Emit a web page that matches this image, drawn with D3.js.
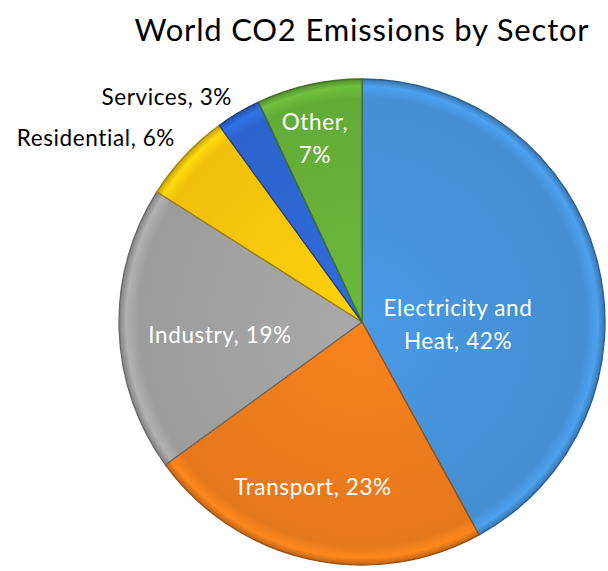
<!DOCTYPE html>
<html>
<head>
<meta charset="utf-8">
<script src="https://cdn.jsdelivr.net/npm/d3@7"></script>
<style>
  body { margin: 0; background: #fff; }
  svg text { font-family: "Lato", "Open Sans", sans-serif; }
</style>
</head>
<body>
<div id="chart"></div>
<script>
// World CO2 emissions by sector, clockwise from 12 o'clock
const sectors = ["Electricity and Heat", "Transport", "Industry", "Residential", "Services", "Other"];
const shares = [42, 23, 19, 6, 3, 7];
const colors = ["#4896de", "#f27f1c", "#a5a5a5", "#fdcb0c", "#2f69d7", "#68b43a"];

const W = 608, H = 571;
const cx = 362, cy = 322, R = 243;

const svg = d3.select("#chart").append("svg")
  .attr("width", W).attr("height", H);

// bevel look: radial gradient per slice
const defs = svg.append("defs");
colors.forEach((c, i) => {
  const grad = defs.append("radialGradient")
    .attr("id", "g" + i)
    .attr("gradientUnits", "userSpaceOnUse")
    .attr("cx", 0).attr("cy", 0).attr("r", R);
  const base = d3.color(c);
  grad.append("stop").attr("offset", "0%").attr("stop-color", base.brighter(0.08));
  grad.append("stop").attr("offset", "92%").attr("stop-color", base.darker(0.15));
  grad.append("stop").attr("offset", "97%").attr("stop-color", base.brighter(0.2));
  grad.append("stop").attr("offset", "100%").attr("stop-color", base.darker(0.7));
});

svg.append("text")
  .attr("x", 362).attr("y", 41)
  .attr("text-anchor", "middle")
  .attr("font-size", 31)
  .attr("letter-spacing", 0.8)
  .attr("fill", "#000")
  .text("World CO2 Emissions by Sector");

const data = sectors.map((s, i) => ({ name: s, value: shares[i], i }));

const pie = d3.pie().value(d => d.value).sort(null);
const arc = d3.arc().innerRadius(0).outerRadius(R);

const g = svg.append("g").attr("transform", `translate(${cx},${cy})`);

g.selectAll("path.slice")
  .data(pie(data))
  .join("path")
  .attr("class", "slice")
  .attr("d", arc)
  .attr("fill", d => `url(#g${d.data.i})`)
  .attr("stroke", d => d3.color(colors[d.data.i]).darker(1.3))
  .attr("stroke-width", 1.3)
  .attr("stroke-linejoin", "round");

// label positions (relative to center) and styling
const labels = [
  { lines: ["Electricity and", "Heat, 42%"], x: 96, y: -14, fill: "#fff", anchor: "middle" },
  { lines: ["Transport, 23%"], x: -49, y: 165, fill: "#fff", anchor: "middle" },
  { lines: ["Industry, 19%"], x: -142, y: 13, fill: "#fff", anchor: "middle" },
  { lines: ["Residential, 6%"], x: -187, y: -184, fill: "#000", anchor: "end" },
  { lines: ["Services, 3%"], x: -130, y: -225, fill: "#000", anchor: "end" },
  { lines: ["Other,", "7%"], x: -47, y: -200, fill: "#fff", anchor: "middle" }
];

labels.forEach(l => {
  const t = g.append("text")
    .attr("text-anchor", l.anchor)
    .attr("font-size", 22.5)
    .attr("letter-spacing", 0.6)
    .attr("fill", l.fill);
  l.lines.forEach((line, k) => {
    t.append("tspan")
      .attr("x", l.x)
      .attr("y", l.y + k * 33 + 8)
      .text(line);
  });
});
</script>
</body>
</html>
